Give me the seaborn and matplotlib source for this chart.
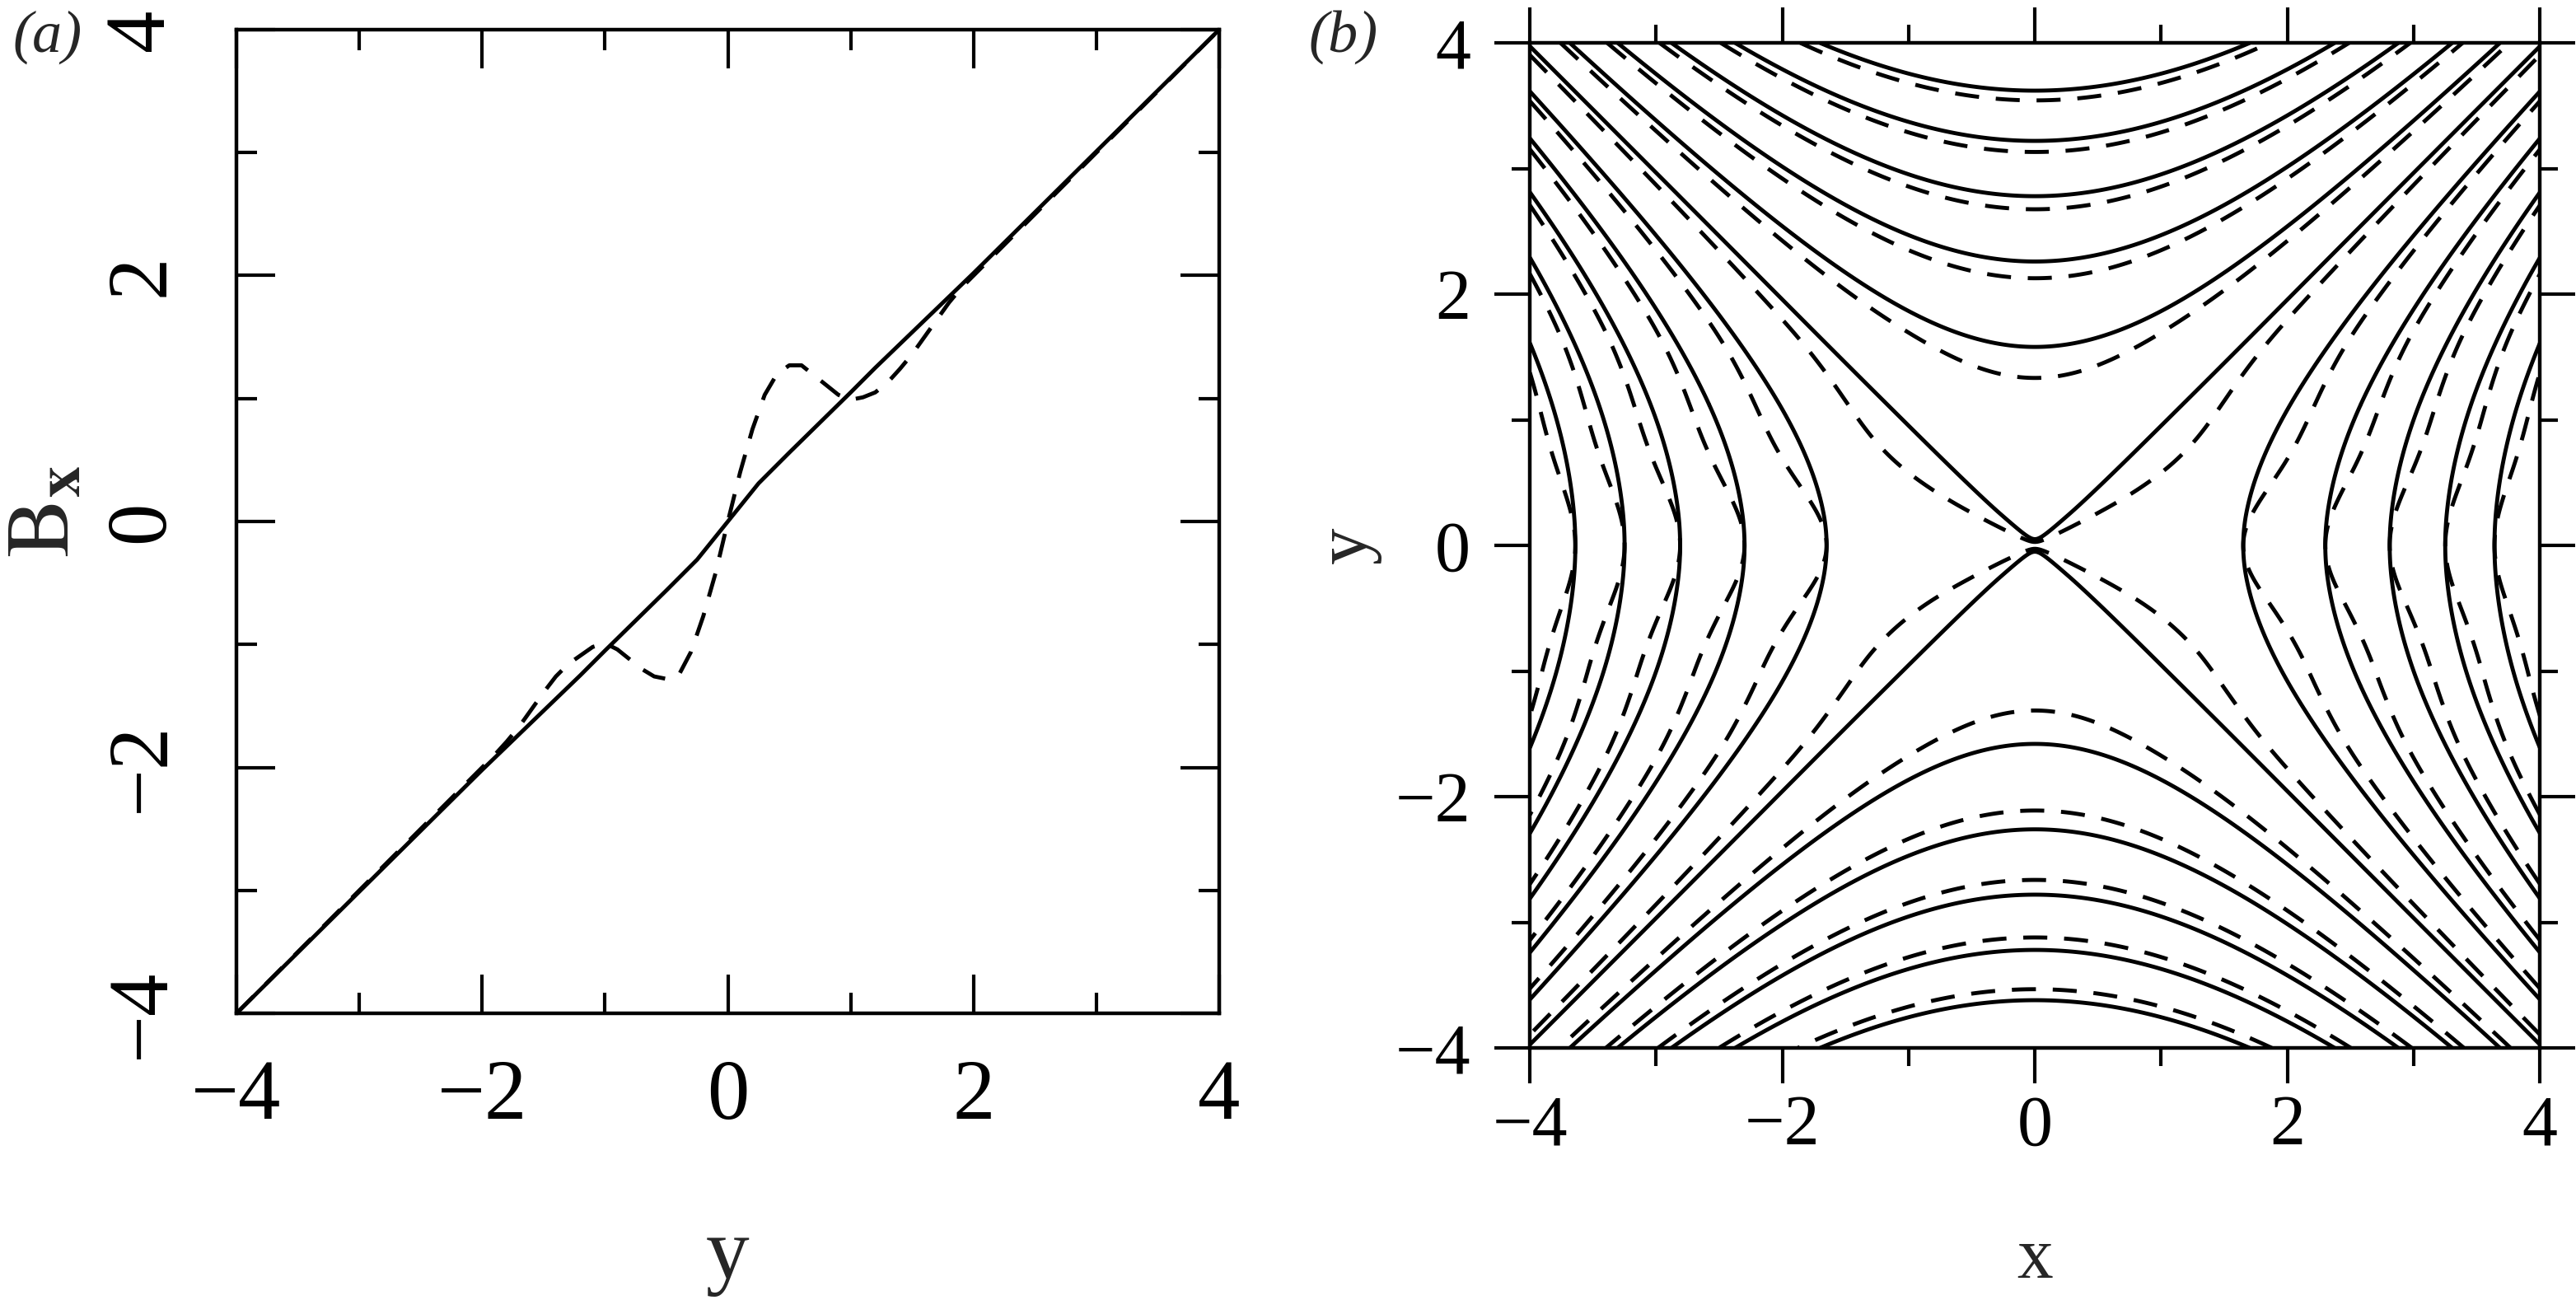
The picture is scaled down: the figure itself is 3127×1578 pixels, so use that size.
import numpy as np
import pandas as pd
import seaborn as sns
import matplotlib
matplotlib.use('Agg')
from matplotlib import pyplot as plt
from matplotlib.ticker import MultipleLocator

# (a) B_x against y, solid = unperturbed, dashed = perturbed
y_solid = [-4.0, -2.0, -1.2, -1.0, -0.5, -0.25, 0.0, 0.25, 0.5, 1.0, 1.2, 2.0, 4.0]
bx_solid = [-4.0, -2.02, -1.25, -1.05, -0.56, -0.31, 0.0, 0.31, 0.56, 1.05, 1.25, 2.02, 4.0]

y_dashed = [-4.0, -2.2, -2.0, -1.9, -1.8, -1.7, -1.6, -1.5, -1.4, -1.3, -1.2, -1.1, -1.0,
            -0.9, -0.8, -0.7, -0.6, -0.5, -0.4, -0.3, -0.2, -0.1, 0.0,
            0.1, 0.2, 0.3, 0.4, 0.5, 0.6, 0.7, 0.8, 0.9,
            1.0, 1.1, 1.2, 1.3, 1.4, 1.5, 1.6, 1.7, 1.8, 1.9, 2.0, 2.2, 4.0]
bx_dashed = [-4.0, -2.2, -2.0, -1.90, -1.79, -1.67, -1.53, -1.39, -1.26, -1.16, -1.09, -1.02, -0.99,
             -1.04, -1.12, -1.20, -1.26, -1.28, -1.25, -1.06, -0.77, -0.42, 0.0,
             0.40, 0.75, 1.03, 1.20, 1.27, 1.27, 1.19, 1.11, 1.03,
             0.99, 1.01, 1.05, 1.13, 1.24, 1.36, 1.50, 1.64, 1.78, 1.90, 2.0, 2.2, 4.0]

# (b) where the field lines cross the axes
vertex_y = [1.58, 2.26, 2.78, 3.22, 3.62]   # upper / lower family, on x = 0
vertex_x = [1.65, 2.30, 2.81, 3.25, 3.64]   # left / right family, on y = 0
vertex_sep = 0.05                           # lines through the X point

tick_vals = [-4, -2, 0, 2, 4]
LW = 3.5

sns.set_style('ticks')
plt.rcParams['font.family'] = ['Liberation Serif', 'DejaVu Serif']
plt.rcParams['mathtext.fontset'] = 'stix'
plt.rcParams['lines.dashed_pattern'] = [6, 4.2]
plt.rcParams['contour.negative_linestyle'] = 'solid'
plt.rcParams['axes.linewidth'] = 3.2
plt.rcParams['axes.edgecolor'] = 'black'
plt.rcParams['xtick.color'] = 'black'
plt.rcParams['ytick.color'] = 'black'

fig = plt.figure(figsize=(31.27, 15.78), dpi=100)
ax1 = fig.add_axes([0.0918, 0.2205, 0.3815, 0.7567])
ax2 = fig.add_axes([0.5939, 0.1939, 0.3921, 0.7731])

# ---- panel (a)
df_s = pd.DataFrame({'y': y_solid, 'bx': bx_solid})
df_d = pd.DataFrame({'y': y_dashed, 'bx': bx_dashed})
sns.lineplot(data=df_s, x='y', y='bx', ax=ax1, color='k', lw=LW, sort=False, estimator=None)
sns.lineplot(data=df_d, x='y', y='bx', ax=ax1, color='k', lw=LW, linestyle='--',
             sort=False, estimator=None)

# ---- panel (b): flux function psi = int B_x dy - x^2/2
yy = np.linspace(-4, 4, 1601)
xx = np.linspace(-4, 4, 801)


def flux(ys, bs):
    b = np.interp(yy, ys, bs)
    f = np.concatenate([[0.0], np.cumsum(0.5 * (b[1:] + b[:-1]) * np.diff(yy))])
    return f - np.interp(0.0, yy, f)


f_solid = flux(y_solid, bx_solid)
f_dashed = flux(y_dashed, bx_dashed)
psi_solid = f_solid[:, None] - 0.5 * xx[None, :] ** 2
psi_dashed = f_dashed[:, None] - 0.5 * xx[None, :] ** 2

levels = np.sort(np.concatenate([
    -0.5 * np.array(vertex_x) ** 2,
    [np.interp(vertex_sep, yy, f_solid)],
    np.interp(vertex_y, yy, f_solid),
]))

ax2.contour(xx, yy, psi_solid, levels=levels, colors='k', linewidths=LW, linestyles='solid')
ax2.contour(xx, yy, psi_dashed, levels=levels, colors='k', linewidths=LW, linestyles='dashed')

# ---- axes cosmetics
for ax in (ax1, ax2):
    ax.set_xlim(-4, 4)
    ax.set_ylim(-4, 4)
    ax.set_xticks(tick_vals)
    ax.set_yticks(tick_vals)
    ax.xaxis.set_minor_locator(MultipleLocator(1))
    ax.yaxis.set_minor_locator(MultipleLocator(1))
    for sp in ax.spines.values():
        sp.set_linewidth(3.2)
        sp.set_visible(True)

ax1.tick_params(which='both', direction='in', top=True, right=True, width=3)
ax1.tick_params(which='major', length=34)
ax1.tick_params(which='minor', length=18)
ax1.tick_params(axis='x', labelsize=74, pad=40)
ax1.tick_params(axis='y', labelsize=74, pad=48, labelrotation=90)
plt.setp(ax1.get_yticklabels(), va='center')

ax2.tick_params(which='both', direction='out', top=True, right=True, width=3)
ax2.tick_params(which='major', length=31)
ax2.tick_params(which='minor', length=16)
ax2.tick_params(axis='x', labelsize=62, pad=10)
ax2.tick_params(axis='y', labelsize=62, pad=21)

ax1.set_xlabel('y', fontsize=76)
ax1.xaxis.set_label_coords(0.5, -0.207)
ax1.set_ylabel(r'$\mathrm{B}_{\mathbf{x}}$', fontsize=78)
ax1.yaxis.set_label_coords(-0.151, 0.51)

ax2.set_xlabel('x', fontsize=63)
ax2.xaxis.set_label_coords(0.5, -0.178)
ax2.set_ylabel('y', fontsize=64)
ax2.yaxis.set_label_coords(-0.147, 0.5)

fig.text(0.005, 0.992, '(a)', style='italic', fontsize=52, va='top')
fig.text(0.508, 0.992, '(b)', style='italic', fontsize=52, va='top')

fig.savefig('out.png', dpi=100)
